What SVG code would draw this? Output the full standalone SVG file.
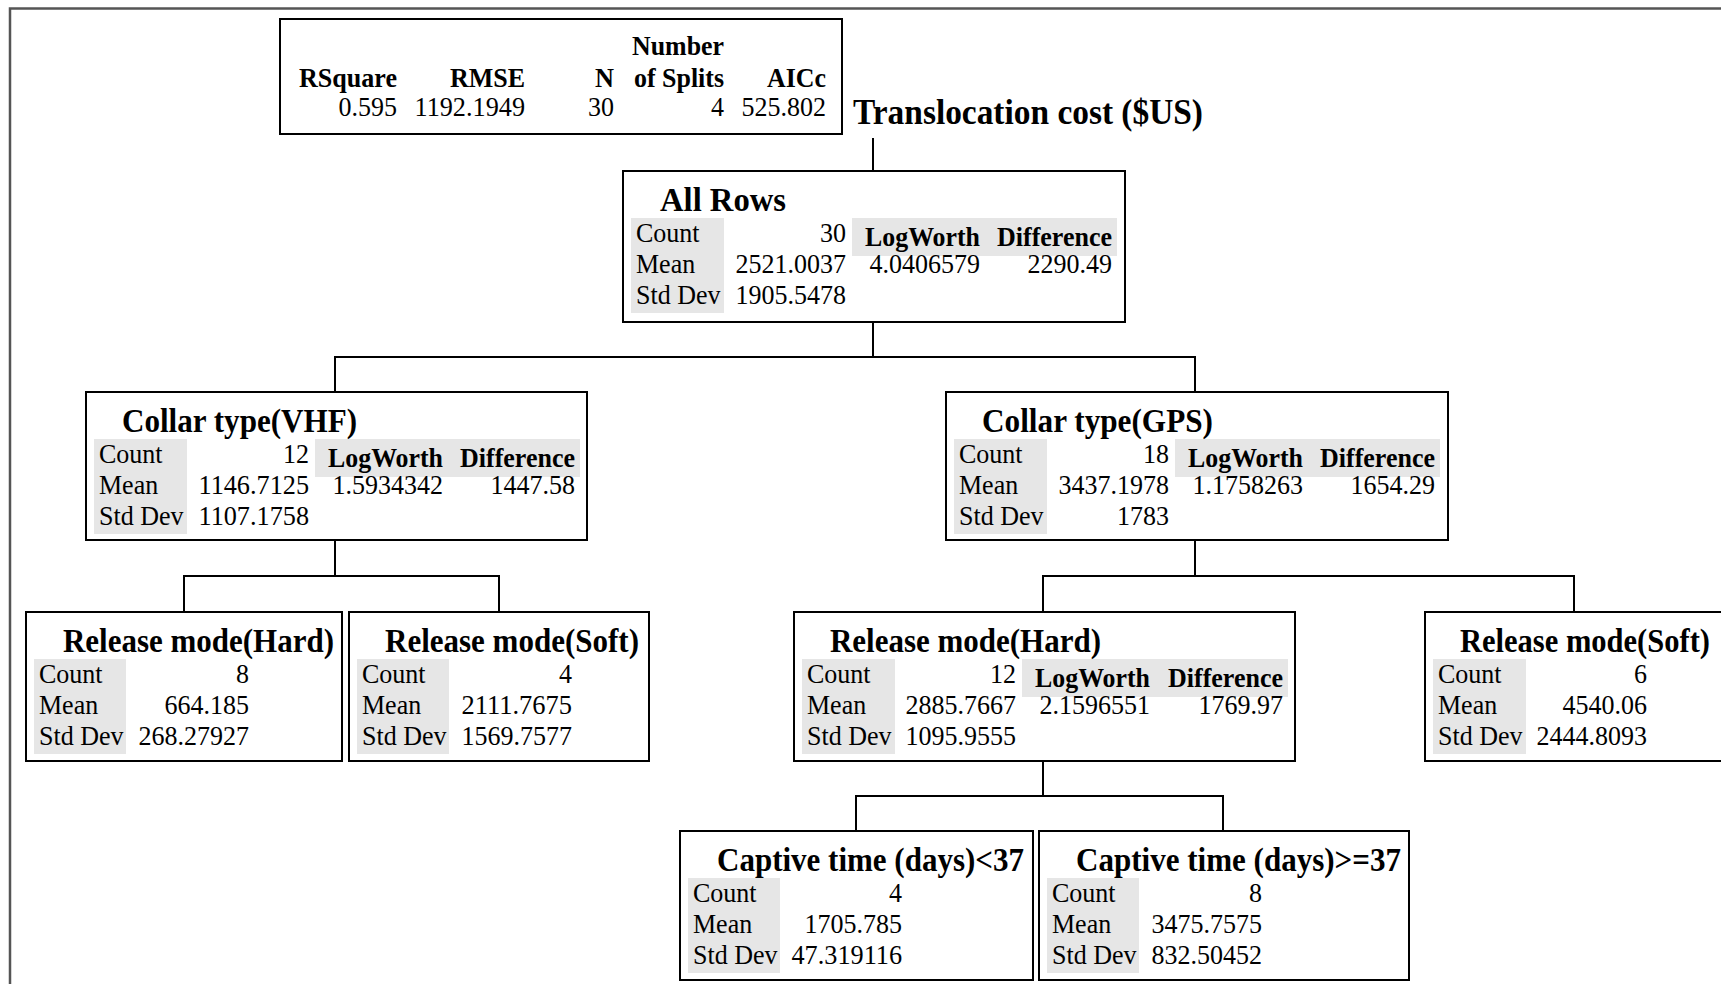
<svg xmlns="http://www.w3.org/2000/svg" width="1721" height="984" viewBox="0 0 1721 984">
<style>
text{font-family:"Liberation Serif","Times New Roman",serif;font-size:27.5px;fill:#000}
.b{font-weight:bold}
.t{font-weight:bold;font-size:34px}
.e{text-anchor:end}
.box{fill:#fff;stroke:#000;stroke-width:2}
.g{fill:#e6e6e6}
.c{fill:none;stroke:#000;stroke-width:2}
</style>
<rect width="1721" height="984" fill="#fff"/>
<path d="M10 984V8.5H1721" fill="none" stroke="#555" stroke-width="2.5"/>

<g id="summary">
<rect class="box" x="280" y="19" width="562" height="115"/>
<text class="b e" x="724" y="55" textLength="92" lengthAdjust="spacingAndGlyphs">Number</text>
<text class="b e" x="397" y="87" textLength="98" lengthAdjust="spacingAndGlyphs">RSquare</text>
<text class="b e" x="525" y="87" textLength="75" lengthAdjust="spacingAndGlyphs">RMSE</text>
<text class="b e" x="614" y="87" textLength="19" lengthAdjust="spacingAndGlyphs">N</text>
<text class="b e" x="724" y="87" textLength="90" lengthAdjust="spacingAndGlyphs">of Splits</text>
<text class="b e" x="826" y="87" textLength="59" lengthAdjust="spacingAndGlyphs">AICc</text>
<text class="e" x="397" y="116" textLength="58.5" lengthAdjust="spacingAndGlyphs">0.595</text>
<text class="e" x="525" y="116" textLength="110.5" lengthAdjust="spacingAndGlyphs">1192.1949</text>
<text class="e" x="614" y="116" textLength="26" lengthAdjust="spacingAndGlyphs">30</text>
<text class="e" x="724" y="116" textLength="13" lengthAdjust="spacingAndGlyphs">4</text>
<text class="e" x="826" y="116" textLength="84.5" lengthAdjust="spacingAndGlyphs">525.802</text>
</g>
<g id="title"><text class="b" x="853" y="124" style="font-size:36px" textLength="350" lengthAdjust="spacingAndGlyphs">Translocation cost ($US)</text></g>

<g id="connectors">
<path class="c" d="M873 138V171"/>
<path class="c" d="M873 322V357M335 392V357H1195V392"/>
<path class="c" d="M335 540V576M184 612V576H499V612"/>
<path class="c" d="M1195 540V576M1043 612V576H1574V612"/>
<path class="c" d="M1043 761V796M856 831V796H1223V831"/>
</g>

<g id="all-rows">
<rect class="box" x="623" y="171" width="502" height="151"/>
<rect class="g" x="631" y="218" width="93" height="95"/>
<rect class="g" x="852" y="218" width="265" height="38"/>
<text class="t" x="660" y="211" textLength="126" lengthAdjust="spacingAndGlyphs">All Rows</text>
<text x="636" y="242" textLength="63.6" lengthAdjust="spacingAndGlyphs">Count</text><text x="636" y="273" textLength="59.2" lengthAdjust="spacingAndGlyphs">Mean</text><text x="636" y="304" textLength="84.5" lengthAdjust="spacingAndGlyphs">Std Dev</text>
<text class="e" x="846" y="242" textLength="26" lengthAdjust="spacingAndGlyphs">30</text><text class="e" x="846" y="273" textLength="110.5" lengthAdjust="spacingAndGlyphs">2521.0037</text><text class="e" x="846" y="304" textLength="110.5" lengthAdjust="spacingAndGlyphs">1905.5478</text>
<text class="b e" x="980" y="246" textLength="115" lengthAdjust="spacingAndGlyphs">LogWorth</text><text class="b e" x="1112" y="246" textLength="115" lengthAdjust="spacingAndGlyphs">Difference</text>
<text class="e" x="980" y="273" textLength="110.5" lengthAdjust="spacingAndGlyphs">4.0406579</text><text class="e" x="1112" y="273" textLength="84.5" lengthAdjust="spacingAndGlyphs">2290.49</text>
</g>

<g id="collar-vhf">
<rect class="box" x="86" y="392" width="501" height="148"/>
<rect class="g" x="94" y="439" width="93" height="95"/>
<rect class="g" x="315" y="439" width="265" height="38"/>
<text class="t" x="122" y="432" textLength="235" lengthAdjust="spacingAndGlyphs">Collar type(VHF)</text>
<text x="99" y="463" textLength="63.6" lengthAdjust="spacingAndGlyphs">Count</text><text x="99" y="494" textLength="59.2" lengthAdjust="spacingAndGlyphs">Mean</text><text x="99" y="525" textLength="84.5" lengthAdjust="spacingAndGlyphs">Std Dev</text>
<text class="e" x="309" y="463" textLength="26" lengthAdjust="spacingAndGlyphs">12</text><text class="e" x="309" y="494" textLength="110.5" lengthAdjust="spacingAndGlyphs">1146.7125</text><text class="e" x="309" y="525" textLength="110.5" lengthAdjust="spacingAndGlyphs">1107.1758</text>
<text class="b e" x="443" y="467" textLength="115" lengthAdjust="spacingAndGlyphs">LogWorth</text><text class="b e" x="575" y="467" textLength="115" lengthAdjust="spacingAndGlyphs">Difference</text>
<text class="e" x="443" y="494" textLength="110.5" lengthAdjust="spacingAndGlyphs">1.5934342</text><text class="e" x="575" y="494" textLength="84.5" lengthAdjust="spacingAndGlyphs">1447.58</text>
</g>

<g id="collar-gps">
<rect class="box" x="946" y="392" width="502" height="148"/>
<rect class="g" x="954" y="439" width="93" height="95"/>
<rect class="g" x="1175" y="439" width="265" height="38"/>
<text class="t" x="982" y="432" textLength="231" lengthAdjust="spacingAndGlyphs">Collar type(GPS)</text>
<text x="959" y="463" textLength="63.6" lengthAdjust="spacingAndGlyphs">Count</text><text x="959" y="494" textLength="59.2" lengthAdjust="spacingAndGlyphs">Mean</text><text x="959" y="525" textLength="84.5" lengthAdjust="spacingAndGlyphs">Std Dev</text>
<text class="e" x="1169" y="463" textLength="26" lengthAdjust="spacingAndGlyphs">18</text><text class="e" x="1169" y="494" textLength="110.5" lengthAdjust="spacingAndGlyphs">3437.1978</text><text class="e" x="1169" y="525" textLength="52" lengthAdjust="spacingAndGlyphs">1783</text>
<text class="b e" x="1303" y="467" textLength="115" lengthAdjust="spacingAndGlyphs">LogWorth</text><text class="b e" x="1435" y="467" textLength="115" lengthAdjust="spacingAndGlyphs">Difference</text>
<text class="e" x="1303" y="494" textLength="110.5" lengthAdjust="spacingAndGlyphs">1.1758263</text><text class="e" x="1435" y="494" textLength="84.5" lengthAdjust="spacingAndGlyphs">1654.29</text>
</g>

<g id="release-hard-vhf">
<rect class="box" x="26" y="612" width="316" height="149"/>
<rect class="g" x="34" y="659" width="92" height="95"/>
<text class="t" x="63" y="652" textLength="271" lengthAdjust="spacingAndGlyphs">Release mode(Hard)</text>
<text x="39" y="683" textLength="63.6" lengthAdjust="spacingAndGlyphs">Count</text><text x="39" y="714" textLength="59.2" lengthAdjust="spacingAndGlyphs">Mean</text><text x="39" y="745" textLength="84.5" lengthAdjust="spacingAndGlyphs">Std Dev</text>
<text class="e" x="249" y="683" textLength="13" lengthAdjust="spacingAndGlyphs">8</text><text class="e" x="249" y="714" textLength="84.5" lengthAdjust="spacingAndGlyphs">664.185</text><text class="e" x="249" y="745" textLength="110.5" lengthAdjust="spacingAndGlyphs">268.27927</text>
</g>

<g id="release-soft-vhf">
<rect class="box" x="349" y="612" width="300" height="149"/>
<rect class="g" x="357" y="659" width="92" height="95"/>
<text class="t" x="385" y="652" textLength="254" lengthAdjust="spacingAndGlyphs">Release mode(Soft)</text>
<text x="362" y="683" textLength="63.6" lengthAdjust="spacingAndGlyphs">Count</text><text x="362" y="714" textLength="59.2" lengthAdjust="spacingAndGlyphs">Mean</text><text x="362" y="745" textLength="84.5" lengthAdjust="spacingAndGlyphs">Std Dev</text>
<text class="e" x="572" y="683" textLength="13" lengthAdjust="spacingAndGlyphs">4</text><text class="e" x="572" y="714" textLength="110.5" lengthAdjust="spacingAndGlyphs">2111.7675</text><text class="e" x="572" y="745" textLength="110.5" lengthAdjust="spacingAndGlyphs">1569.7577</text>
</g>

<g id="release-hard-gps">
<rect class="box" x="794" y="612" width="501" height="149"/>
<rect class="g" x="802" y="659" width="93" height="95"/>
<rect class="g" x="1022" y="659" width="266" height="38"/>
<text class="t" x="830" y="652" textLength="271" lengthAdjust="spacingAndGlyphs">Release mode(Hard)</text>
<text x="807" y="683" textLength="63.6" lengthAdjust="spacingAndGlyphs">Count</text><text x="807" y="714" textLength="59.2" lengthAdjust="spacingAndGlyphs">Mean</text><text x="807" y="745" textLength="84.5" lengthAdjust="spacingAndGlyphs">Std Dev</text>
<text class="e" x="1016" y="683" textLength="26" lengthAdjust="spacingAndGlyphs">12</text><text class="e" x="1016" y="714" textLength="110.5" lengthAdjust="spacingAndGlyphs">2885.7667</text><text class="e" x="1016" y="745" textLength="110.5" lengthAdjust="spacingAndGlyphs">1095.9555</text>
<text class="b e" x="1150" y="687" textLength="115" lengthAdjust="spacingAndGlyphs">LogWorth</text><text class="b e" x="1283" y="687" textLength="115" lengthAdjust="spacingAndGlyphs">Difference</text>
<text class="e" x="1150" y="714" textLength="110.5" lengthAdjust="spacingAndGlyphs">2.1596551</text><text class="e" x="1283" y="714" textLength="84.5" lengthAdjust="spacingAndGlyphs">1769.97</text>
</g>

<g id="release-soft-gps">
<rect class="box" x="1425" y="612" width="330" height="149"/>
<rect class="g" x="1433" y="659" width="93" height="95"/>
<text class="t" x="1460" y="652" textLength="250" lengthAdjust="spacingAndGlyphs">Release mode(Soft)</text>
<text x="1438" y="683" textLength="63.6" lengthAdjust="spacingAndGlyphs">Count</text><text x="1438" y="714" textLength="59.2" lengthAdjust="spacingAndGlyphs">Mean</text><text x="1438" y="745" textLength="84.5" lengthAdjust="spacingAndGlyphs">Std Dev</text>
<text class="e" x="1647" y="683" textLength="13" lengthAdjust="spacingAndGlyphs">6</text><text class="e" x="1647" y="714" textLength="84.5" lengthAdjust="spacingAndGlyphs">4540.06</text><text class="e" x="1647" y="745" textLength="110.5" lengthAdjust="spacingAndGlyphs">2444.8093</text>
</g>

<g id="captive-lt37">
<rect class="box" x="680" y="831" width="353" height="149"/>
<rect class="g" x="688" y="878" width="92" height="95"/>
<text class="t" x="717" y="871" textLength="307" lengthAdjust="spacingAndGlyphs">Captive time (days)&lt;37</text>
<text x="693" y="902" textLength="63.6" lengthAdjust="spacingAndGlyphs">Count</text><text x="693" y="933" textLength="59.2" lengthAdjust="spacingAndGlyphs">Mean</text><text x="693" y="964" textLength="84.5" lengthAdjust="spacingAndGlyphs">Std Dev</text>
<text class="e" x="902" y="902" textLength="13" lengthAdjust="spacingAndGlyphs">4</text><text class="e" x="902" y="933" textLength="97.5" lengthAdjust="spacingAndGlyphs">1705.785</text><text class="e" x="902" y="964" textLength="110.5" lengthAdjust="spacingAndGlyphs">47.319116</text>
</g>

<g id="captive-ge37">
<rect class="box" x="1039" y="831" width="370" height="149"/>
<rect class="g" x="1047" y="878" width="92" height="95"/>
<text class="t" x="1076" y="871" textLength="325" lengthAdjust="spacingAndGlyphs">Captive time (days)&gt;=37</text>
<text x="1052" y="902" textLength="63.6" lengthAdjust="spacingAndGlyphs">Count</text><text x="1052" y="933" textLength="59.2" lengthAdjust="spacingAndGlyphs">Mean</text><text x="1052" y="964" textLength="84.5" lengthAdjust="spacingAndGlyphs">Std Dev</text>
<text class="e" x="1262" y="902" textLength="13" lengthAdjust="spacingAndGlyphs">8</text><text class="e" x="1262" y="933" textLength="110.5" lengthAdjust="spacingAndGlyphs">3475.7575</text><text class="e" x="1262" y="964" textLength="110.5" lengthAdjust="spacingAndGlyphs">832.50452</text>
</g>
</svg>
